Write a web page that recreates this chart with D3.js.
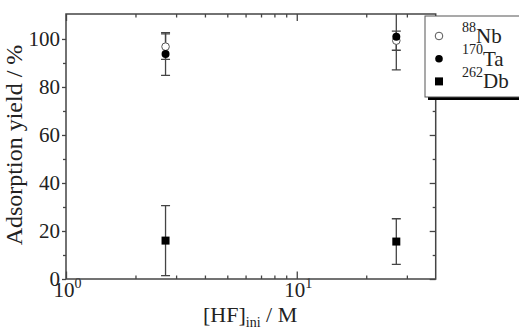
<!DOCTYPE html>
<html>
<head>
<meta charset="utf-8">
<script src="https://cdn.jsdelivr.net/npm/d3@7"></script>
<style>
  body { margin: 0; background: #fff; }
  svg text { font-family: "Liberation Serif", "Times New Roman", serif; fill: #222; }
</style>
</head>
<body>
<svg id="chart"></svg>
<script>
// [HF]ini in M
const hfConc = [2.7, 27];

// adsorption yields (%) and error bars
const nbYield = [96.8, 99.3];
const nbErr = [5.3, 4.0];
const taYield = [93.7, 100.9];
const taErr = [8.9, 13.8];
const dbYield = [16.0, 15.6];
const dbErr = [14.6, 9.5];

const yMajorTicks = [0, 20, 40, 60, 80, 100];
const yMinorTicks = [10, 30, 50, 70, 90];
const xMajorTicks = [1, 10];
const xMinorTicks = [2, 3, 4, 5, 6, 7, 8, 9, 20, 30];

const legendItems = [
    { mass: "88", name: "Nb", symbol: "open" },
    { mass: "170", name: "Ta", symbol: "filled" },
    { mass: "262", name: "Db", symbol: "square" }
];

const width = 519;
const height = 329;
const plotLeft = 66, plotRight = 435.7, plotTop = 14, plotBottom = 279;
const axisColor = "#444";

const svg = d3.select("#chart")
    .attr("width", width)
    .attr("height", height);

svg.append("rect").attr("width", width).attr("height", height).attr("fill", "#fff");

const x = d3.scaleLog().domain([1, 40]).range([plotLeft, plotRight]);
const y = d3.scaleLinear().domain([0, 110.4]).range([plotBottom, plotTop]);

// clip for the data
svg.append("clipPath").attr("id", "plot-clip")
    .append("rect")
    .attr("x", plotLeft).attr("y", plotTop)
    .attr("width", plotRight - plotLeft).attr("height", plotBottom - plotTop);

function styleAxis(g) {
    g.select(".domain").remove();
    g.selectAll("line").attr("stroke", axisColor).attr("stroke-width", 1.3);
}

// left axis (major with labels, minor without)
svg.append("g")
    .attr("transform", `translate(${plotLeft},0)`)
    .call(d3.axisLeft(y).tickValues(yMajorTicks).tickSize(4).tickPadding(2))
    .call(styleAxis)
    .selectAll("text")
    .style("font-size", "21px");

svg.append("g")
    .attr("transform", `translate(${plotLeft},0)`)
    .call(d3.axisLeft(y).tickValues(yMinorTicks).tickSize(3).tickFormat(""))
    .call(styleAxis);

// right axis, ticks pointing inward
svg.append("g")
    .attr("transform", `translate(${plotRight},0)`)
    .call(d3.axisRight(y).tickValues(yMajorTicks).tickSize(-6).tickFormat(""))
    .call(styleAxis);
svg.append("g")
    .attr("transform", `translate(${plotRight},0)`)
    .call(d3.axisRight(y).tickValues(yMinorTicks).tickSize(-3).tickFormat(""))
    .call(styleAxis);

// bottom axis, inward ticks
svg.append("g")
    .attr("transform", `translate(0,${plotBottom})`)
    .call(d3.axisBottom(x).tickValues(xMajorTicks).tickSize(-7.5).tickFormat(""))
    .call(styleAxis);
svg.append("g")
    .attr("transform", `translate(0,${plotBottom})`)
    .call(d3.axisBottom(x).tickValues(xMinorTicks).tickSize(-3.5).tickFormat(""))
    .call(styleAxis);

// top axis, inward ticks
svg.append("g")
    .attr("transform", `translate(0,${plotTop})`)
    .call(d3.axisTop(x).tickValues(xMajorTicks).tickSize(-7).tickFormat(""))
    .call(styleAxis);
svg.append("g")
    .attr("transform", `translate(0,${plotTop})`)
    .call(d3.axisTop(x).tickValues(xMinorTicks).tickSize(-3.5).tickFormat(""))
    .call(styleAxis);

// power-of-ten labels
const xLabels = svg.selectAll(".xlabel")
    .data(xMajorTicks)
    .enter()
    .append("text")
    .attr("class", "xlabel")
    .attr("x", d => x(d) - 12.5)
    .attr("y", 297)
    .style("font-size", "21px");
xLabels.append("tspan").text("10");
xLabels.append("tspan")
    .attr("dy", -9)
    .style("font-size", "14px")
    .text(d => Math.round(Math.log10(d)));

// frame
svg.append("rect")
    .attr("x", plotLeft).attr("y", plotTop)
    .attr("width", plotRight - plotLeft).attr("height", plotBottom - plotTop)
    .attr("fill", "none")
    .attr("stroke", axisColor)
    .attr("stroke-width", 1.5);

// data
const plot = svg.append("g").attr("clip-path", "url(#plot-clip)");

function makeSeries(vals, errs) {
    return hfConc.map((c, i) => ({ c: c, v: vals[i], e: errs[i] }));
}
const nbData = makeSeries(nbYield, nbErr);
const taData = makeSeries(taYield, taErr);
const dbData = makeSeries(dbYield, dbErr);

function drawErrors(data) {
    const g = plot.append("g")
        .attr("stroke", axisColor)
        .attr("stroke-width", 1.3);
    data.forEach(d => {
        const cx = x(d.c);
        g.append("line").attr("x1", cx).attr("x2", cx)
            .attr("y1", y(d.v - d.e)).attr("y2", y(d.v + d.e));
        g.append("line").attr("x1", cx - 4.5).attr("x2", cx + 4.5)
            .attr("y1", y(d.v - d.e)).attr("y2", y(d.v - d.e));
        g.append("line").attr("x1", cx - 4.5).attr("x2", cx + 4.5)
            .attr("y1", y(d.v + d.e)).attr("y2", y(d.v + d.e));
    });
}
drawErrors(taData);
drawErrors(nbData);
drawErrors(dbData);

plot.selectAll(".nb")
    .data(nbData)
    .enter()
    .append("circle")
    .attr("cx", d => x(d.c))
    .attr("cy", d => y(d.v))
    .attr("r", 3.8)
    .attr("fill", "#fff")
    .attr("stroke", "#555")
    .attr("stroke-width", 1);

plot.selectAll(".ta")
    .data(taData)
    .enter()
    .append("circle")
    .attr("cx", d => x(d.c))
    .attr("cy", d => y(d.v))
    .attr("r", 4)
    .attr("fill", "#000");

plot.selectAll(".db")
    .data(dbData)
    .enter()
    .append("rect")
    .attr("x", d => x(d.c) - 4)
    .attr("y", d => y(d.v) - 4)
    .attr("width", 8)
    .attr("height", 8)
    .attr("fill", "#000");

// axis titles
svg.append("text")
    .attr("transform", "translate(22,145) rotate(-90)")
    .attr("text-anchor", "middle")
    .style("font-size", "24px")
    .text("Adsorption yield / %");

const xTitle = svg.append("text")
    .attr("x", 203)
    .attr("y", 322)
    .style("font-size", "22px");
xTitle.append("tspan").text("[HF]");
xTitle.append("tspan").attr("dy", 4.5).style("font-size", "14px").text("ini");
xTitle.append("tspan").attr("dy", -4.5).text(" / M");

// legend
const legend = svg.append("g");
legend.append("rect")
    .attr("x", 428).attr("y", 19)
    .attr("width", 110).attr("height", 81)
    .attr("fill", "#000");
legend.append("rect")
    .attr("x", 425).attr("y", 16)
    .attr("width", 110).attr("height", 81)
    .attr("fill", "#fff")
    .attr("stroke", "#555")
    .attr("stroke-width", 1);

const rows = legend.selectAll(".row")
    .data(legendItems)
    .enter()
    .append("g")
    .attr("transform", (d, i) => `translate(0,${36 + i * 22.7})`);

rows.each(function (d) {
    const g = d3.select(this);
    if (d.symbol === "square") {
        g.append("rect").attr("x", 435).attr("y", -4).attr("width", 8).attr("height", 8).attr("fill", "#000");
    } else {
        g.append("circle").attr("cx", 439).attr("cy", 0).attr("r", 3.8)
            .attr("fill", d.symbol === "open" ? "#fff" : "#000")
            .attr("stroke", d.symbol === "open" ? "#555" : "none");
    }
    const t = g.append("text").attr("x", 462).attr("y", -4.5);
    t.append("tspan").style("font-size", "14px").text(d.mass);
    t.append("tspan").attr("dy", 11.5).style("font-size", "21px").text(d.name);
});
</script>
</body>
</html>
